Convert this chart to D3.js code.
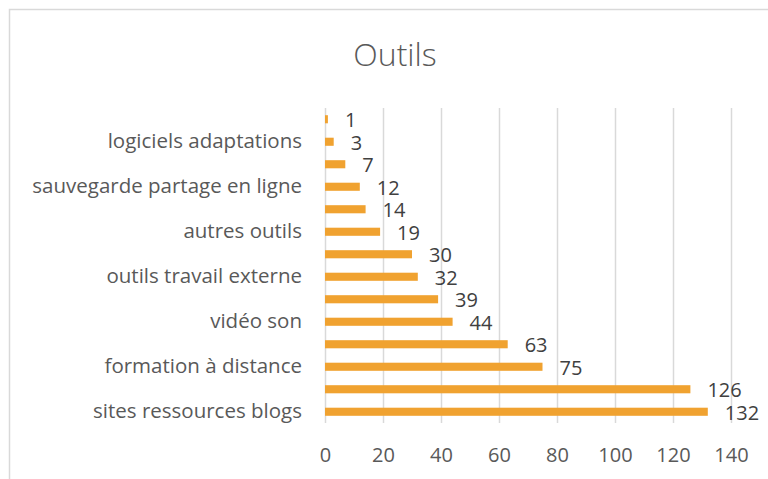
<!DOCTYPE html>
<html>
<head>
<meta charset="utf-8">
<script src="https://cdn.jsdelivr.net/npm/d3@7"></script>
<style>
  html, body { margin: 0; padding: 0; background: #fff; }
  svg { display: block; }
</style>
</head>
<body>
<svg id="chart" width="768" height="479"></svg>
<script>
// Data (bottom to top, as in the reference)
const categories = [
  "sites ressources blogs", "cat2", "formation à distance", "cat4",
  "vidéo son", "cat6", "outils travail externe", "cat8",
  "autres outils", "cat10", "sauvegarde partage en ligne", "cat12",
  "logiciels adaptations", "cat14"
];
// Labels shown on the axis (Excel skipped every other one)
const shownLabels = [
  "sites ressources blogs", "", "formation à distance", "",
  "vidéo son", "", "outils travail externe", "",
  "autres outils", "", "sauvegarde partage en ligne", "",
  "logiciels adaptations", ""
];
const values = [132, 126, 75, 63, 44, 39, 32, 30, 19, 14, 12, 7, 3, 1];
const xTicks = [0, 20, 40, 60, 80, 100, 120, 140];
const title = "Outils";

const svg = d3.select("#chart");
const font = "'Open Sans', 'Liberation Sans', sans-serif";

// Chart border (extends past the cropped right/bottom edges)
svg.append("rect")
  .attr("x", 9.5).attr("y", 9.5)
  .attr("width", 800).attr("height", 500)
  .attr("fill", "#fff")
  .attr("stroke", "#d9d9d9").attr("stroke-width", 1.5);

const plot = { left: 325, right: 731, top: 108, bottom: 423 };

const x = d3.scaleLinear().domain([0, 140]).range([plot.left, plot.right]);
const y = d3.scaleBand()
  .domain(categories.map((c, i) => i))
  .range([plot.bottom, plot.top])
  .paddingInner(0.64).paddingOuter(0.32);

// Title
svg.append("text")
  .attr("x", 395).attr("y", 66)
  .attr("text-anchor", "middle")
  .attr("font-family", font)
  .attr("font-weight", 300)
  .attr("font-size", 32)
  .attr("fill", "#595959")
  .text(title);

// Gridlines
svg.append("g")
  .selectAll("line")
  .data(xTicks)
  .join("line")
  .attr("x1", d => Math.round(x(d)) + 0.5)
  .attr("x2", d => Math.round(x(d)) + 0.5)
  .attr("y1", plot.top).attr("y2", plot.bottom)
  .attr("stroke", "#d9d9d9").attr("stroke-width", 1.5);

// X axis (tick labels only)
const xAxis = svg.append("g")
  .attr("transform", `translate(0,${plot.bottom})`)
  .call(d3.axisBottom(x).tickValues(xTicks).tickSize(0).tickPadding(25));
xAxis.select(".domain").remove();
xAxis.selectAll("text")
  .attr("font-family", font)
  .attr("font-size", 20)
  .attr("fill", "#595959");

// Y axis (category labels, every other one)
const yAxis = svg.append("g")
  .attr("transform", `translate(${plot.left},0)`)
  .call(d3.axisLeft(y).tickSize(0).tickPadding(23).tickFormat(i => shownLabels[i]));
yAxis.select(".domain").remove();
yAxis.selectAll("text")
  .attr("font-family", font)
  .attr("font-size", 20.5)
  .attr("fill", "#595959");

// Bars
svg.append("g")
  .selectAll("rect")
  .data(values)
  .join("rect")
  .attr("x", x(0))
  .attr("y", (d, i) => y(i))
  .attr("width", d => x(d) - x(0))
  .attr("height", y.bandwidth())
  .attr("fill", "#F0A230");

// Value labels
svg.append("g")
  .selectAll("text")
  .data(values)
  .join("text")
  .attr("x", d => x(d) + 17)
  .attr("y", (d, i) => y(i) + y.bandwidth() / 2 + 1)
  .attr("dy", "0.36em")
  .attr("font-family", font)
  .attr("font-size", 20)
  .attr("fill", "#404040")
  .text(d => d);
</script>
</body>
</html>
